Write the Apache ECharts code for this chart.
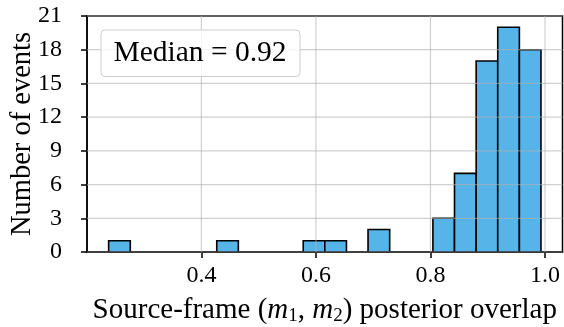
<!DOCTYPE html>
<html><head><meta charset="utf-8">
<script src="https://cdn.jsdelivr.net/npm/echarts@6/dist/echarts.min.js"></script>
<style>html,body{margin:0;padding:0;background:#fff}#c{width:564px;height:327px}</style>
</head><body><div id="c"></div>
<script>
// Histogram bin edges (20 bins) and counts
const binEdges = [0.2380, 0.2758, 0.3135, 0.3513, 0.3890, 0.4268, 0.4645, 0.5023, 0.5400, 0.5778,
                  0.6155, 0.6533, 0.6910, 0.7288, 0.7665, 0.8043, 0.8420, 0.8798, 0.9175, 0.9553, 0.9930];
const counts = [1, 0, 0, 0, 0, 1, 0, 0, 0, 1, 1, 0, 2, 0, 0, 3, 7, 17, 20, 18];
const xTicks = [0.4, 0.6, 0.8, 1.0];
const yTicks = [0, 3, 6, 9, 12, 15, 18, 21];
const xRange = [0.2002, 1.0306];
const yRange = [0, 21];
const medianLabel = 'Median = 0.92';
const yTitle = 'Number of events';

const FONT = 'Liberation Serif';
const chart = echarts.init(document.getElementById('c'), null, {renderer: 'canvas'});
const barData = counts.map((c, i) => [binEdges[i], binEdges[i + 1], c]);
const gridStyle = {stroke: 'rgba(176,176,176,0.6)', lineWidth: 1.2};

const option = {
  animation: false,
  grid: {left: 87, right: 1.5, top: 16, bottom: 75, show: true, borderColor: '#000', borderWidth: 1.5,
         backgroundColor: 'transparent', containLabel: false, outerBoundsMode: 'none'},
  xAxis: {
    type: 'value', min: xRange[0], max: xRange[1],
    axisLine: {show: true, onZero: false, lineStyle: {color: '#000', width: 1.5}},
    axisTick: {show: true, customValues: xTicks, length: 6, lineStyle: {color: '#000', width: 1.5}},
    axisLabel: {customValues: xTicks, formatter: v => v.toFixed(1), fontFamily: FONT, fontSize: 24, color: '#000', margin: 12},
    splitLine: {show: false},
    name: '{t|Source-frame (}{i|m}{s|1}{t|, }{i|m}{s|2}{t|) posterior overlap}',
    nameLocation: 'middle', nameGap: 42,
    nameTextStyle: {
      rich: {
        t: {fontFamily: FONT, fontSize: 29, color: '#000', lineHeight: 32},
        i: {fontFamily: FONT, fontSize: 29, fontStyle: 'italic', color: '#000', lineHeight: 32},
        s: {fontFamily: FONT, fontSize: 19, color: '#000', lineHeight: 19, verticalAlign: 'bottom'}
      }
    }
  },
  yAxis: {
    type: 'value', min: yRange[0], max: yRange[1], interval: 3,
    axisLine: {show: true, lineStyle: {color: '#000', width: 1.5}},
    axisTick: {show: true, length: 6, lineStyle: {color: '#000', width: 1.5}},
    axisLabel: {fontFamily: FONT, fontSize: 24, color: '#000', margin: 25},
    splitLine: {show: false},
    name: yTitle, nameLocation: 'middle', nameRotate: 90, nameGap: 50, nameMoveOverlap: false,
    nameTextStyle: {fontFamily: FONT, fontSize: 28.5, color: '#000'}
  },
  series: [
    {
      type: 'custom', z: 2, data: barData,
      encode: {x: [0, 1], y: 2},
      renderItem: (params, api) => {
        const p0 = api.coord([api.value(0), api.value(2)]);
        const p1 = api.coord([api.value(1), 0]);
        if (api.value(2) <= 0) return null;
        return {type: 'rect', shape: {x: p0[0], y: p0[1], width: p1[0] - p0[0], height: p1[1] - p0[1]},
          style: {fill: '#56B4E9', stroke: '#000', lineWidth: 1.6}};
      }
    },
    {
      type: 'custom', z: 3, silent: true, data: xTicks.map(v => [v, yRange[0]]),
      renderItem: (params, api) => {
        const a = api.coord([api.value(0), yRange[0]]);
        const b = api.coord([api.value(0), yRange[1]]);
        return {type: 'line', shape: {x1: a[0], y1: a[1], x2: b[0], y2: b[1]}, style: gridStyle};
      }
    },
    {
      type: 'custom', z: 3, silent: true, data: yTicks.map(v => [xRange[0], v]),
      renderItem: (params, api) => {
        const a = api.coord([xRange[0], api.value(1)]);
        const b = api.coord([xRange[1], api.value(1)]);
        return {type: 'line', shape: {x1: a[0], y1: a[1], x2: b[0], y2: b[1]}, style: gridStyle};
      }
    }
  ],
  graphic: [
    {type: 'rect', z: 10, left: 100.5, top: 29.5, shape: {width: 199, height: 46.5, r: 4},
     style: {fill: 'rgba(255,255,255,0.8)', stroke: '#cccccc', lineWidth: 1}},
    {type: 'text', z: 11, x: 200, y: 53, style: {text: medianLabel, fontFamily: FONT, fontSize: 29.5, fill: '#000', align: 'center', verticalAlign: 'middle'}}
  ]
};
chart.setOption(option);
</script>
</body></html>
